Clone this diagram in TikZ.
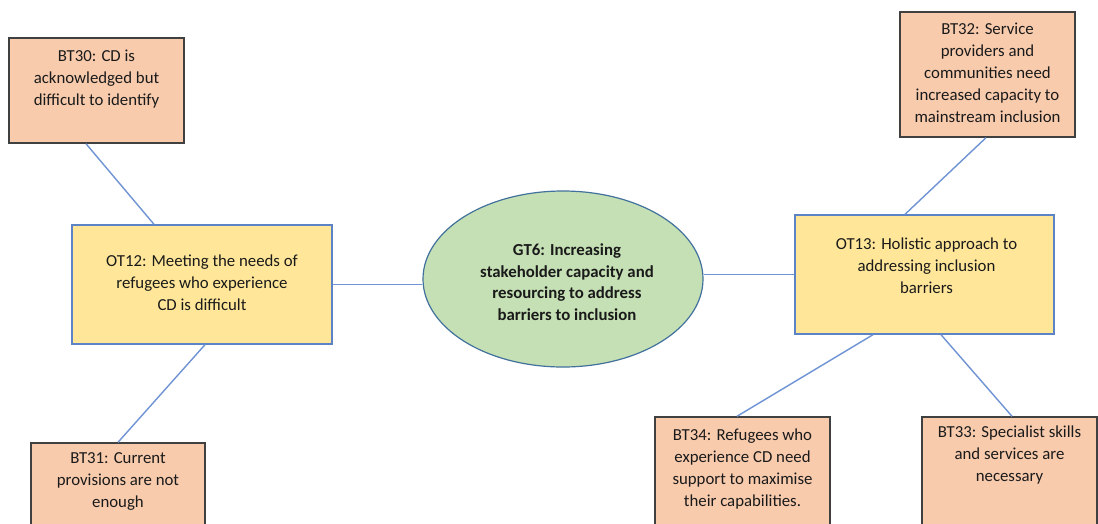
\documentclass[tikz,border=0pt]{standalone}
\usepackage{fontspec}
\setmainfont{Carlito}
\usetikzlibrary{shapes.geometric}

\definecolor{peach}{HTML}{F8CBAD}
\definecolor{sand}{HTML}{FFE699}
\definecolor{sage}{HTML}{C5E0B4}
\definecolor{boxline}{HTML}{404040}
\definecolor{themeline}{HTML}{5B83C6}
\definecolor{ovalline}{HTML}{41719C}
\definecolor{linkline}{HTML}{6F93D3}
\definecolor{ink}{HTML}{1A1A1A}

\tikzset{
  barrier/.style={draw=boxline, line width=1.4pt, fill=peach, inner sep=0pt},
  theme/.style={draw=themeline, line width=1.4pt, fill=sand, inner sep=0pt},
  goal/.style={ellipse, draw=ovalline, line width=1.2pt, fill=sage, inner sep=0pt,
               minimum width=280pt, minimum height=176pt},
  label/.style={anchor=north, align=center, inner sep=0pt, text=ink,
                font=\fontsize{16.8}{22}\selectfont},
  link/.style={draw=linkline, line width=1.4pt}
}

\begin{document}
\begin{tikzpicture}[x=1pt, y=-1pt]
  \useasboundingbox (0,0) rectangle (1098,523);
  \clip (0,0) rectangle (1098,523);
  \fill[white] (0,0) rectangle (1098,523);

  % central goal
  \node[goal] (gt6) at (563,279) {};
  \node[label, font=\fontsize{16.8}{21.7}\selectfont\bfseries] (gt6t) at (567,243.5)
    {GT6: Increasing\\stakeholder capacity and\\resourcing to address\\barriers to inclusion};

  % themes
  \node[theme, minimum width=260pt, minimum height=119pt] (ot12) at (202,284.5) {};
  \node[label] (ot12t) at ([yshift=-30.5]ot12.north)
    {OT12: Meeting the needs of\\refugees who experience\\CD is difficult};

  \node[theme, minimum width=259pt, minimum height=119pt] (ot13) at (924.5,274.5) {};
  \node[label] (ot13t) at ([xshift=2,yshift=-23.5]ot13.north)
    {OT13: Holistic approach to\\addressing inclusion\\barriers};

  % barriers
  \node[barrier, minimum width=175pt, minimum height=105pt] (bt30) at (96.5,90.5) {};
  \node[label] (bt30t) at ([yshift=-12.5]bt30.north)
    {BT30: CD is\\acknowledged but\\difficult to identify};

  \node[barrier, minimum width=175pt, minimum height=125pt] (bt32) at (987.5,74.5) {};
  \node[label] (bt32t) at ([yshift=-11.5]bt32.north)
    {BT32: Service\\providers and\\communities need\\increased capacity to\\mainstream inclusion};

  \node[barrier, minimum width=174pt, minimum height=100pt] (bt31) at (118,493) {};
  \node[label] (bt31t) at ([yshift=-10.5]bt31.north)
    {BT31: Current\\provisions are not\\enough};

  \node[barrier, minimum width=175pt, minimum height=120pt] (bt34) at (742.5,477) {};
  \node[label] (bt34t) at ([yshift=-12.5]bt34.north)
    {BT34: Refugees who\\experience CD need\\support to maximise\\their capabilities.};

  \node[barrier, minimum width=175pt, minimum height=120pt] (bt33) at (1009.5,477) {};
  \node[label] (bt33t) at ([yshift=-9.5]bt33.north)
    {BT33: Specialist skills\\and services are\\necessary};

  % connectors
  \draw[link] ([xshift=-10.5]bt30.south) -- ([xshift=-48]ot12.north);
  \draw[link] ([xshift=3]ot12.south) -- (bt31.north);
  \draw[link] (ot12.east) -- (gt6.west |- ot12.east);
  \draw[link] (gt6.east |- ot13.west) -- (ot13.west);
  \draw[link] ([xshift=-19.5]ot13.north) -- ([xshift=-1.5]bt32.south);
  \draw[link] ([xshift=-51.5]ot13.south) -- ([xshift=-5.5]bt34.north);
  \draw[link] ([xshift=16.5]ot13.south) -- ([xshift=2.5]bt33.north);
\end{tikzpicture}
\end{document}
